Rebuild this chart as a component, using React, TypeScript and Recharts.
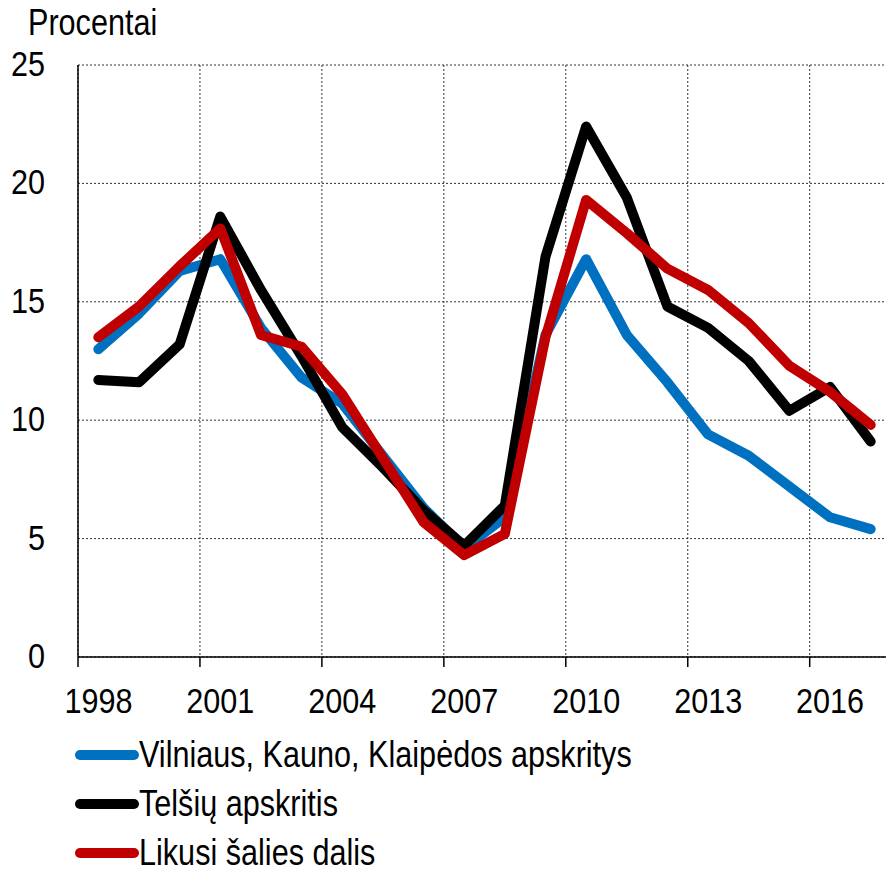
import { LineChart, Line, XAxis, YAxis, CartesianGrid, Legend } from 'recharts'

const years = [1998, 1999, 2000, 2001, 2002, 2003, 2004, 2005, 2006, 2007, 2008, 2009, 2010, 2011, 2012, 2013, 2014, 2015, 2016, 2017]
const vilniusKaunasKlaipeda = [13.0, 14.5, 16.3, 16.8, 13.9, 11.8, 10.7, 8.5, 6.3, 4.6, 5.9, 13.6, 16.8, 13.6, 11.6, 9.4, 8.5, 7.2, 5.9, 5.4]
const telsiai = [11.7, 11.6, 13.2, 18.6, 15.5, 12.7, 9.7, 8.0, 6.2, 4.7, 6.4, 16.9, 22.4, 19.4, 14.8, 13.9, 12.5, 10.4, 11.4, 9.1]
const likusi = [13.5, 14.8, 16.5, 18.1, 13.6, 13.1, 11.1, 8.4, 5.7, 4.3, 5.2, 13.5, 19.3, 17.9, 16.4, 15.5, 14.1, 12.3, 11.2, 9.8]
const yTicks = [0, 5, 10, 15, 20, 25]
// every third year boundary gets a grid line, label sits in the band to the right
const xTicks = [1997.5, 2000.5, 2003.5, 2006.5, 2009.5, 2012.5, 2015.5]

const seriesNames = ['Vilniaus, Kauno, Klaipėdos apskritys', 'Telšių apskritis', 'Likusi šalies dalis']
const seriesColors = ['#0070C0', '#000000', '#C00000']

const data = years.map((year, i) => ({
  year,
  a: vilniusKaunasKlaipeda[i],
  b: telsiai[i],
  c: likusi[i],
}))

// no Arial Narrow here, so squeeze Liberation Sans a bit
const FONT = "'Liberation Sans', Arial, sans-serif"
const SQUEEZE = 0.85

function YearTick({ x, payload }: any) {
  return (
    <text
      transform={`translate(${x + 20.4},${713}) scale(${SQUEEZE},1)`}
      textAnchor='middle'
      fontSize={36}
      fontFamily={FONT}
      fill='#000'
    >
      {payload.value + 0.5}
    </text>
  )
}

function ValueTick({ x, y, payload }: any) {
  return (
    <text
      transform={`translate(${x},${y + 11}) scale(${SQUEEZE},1)`}
      textAnchor='end'
      fontSize={36}
      fontFamily={FONT}
      fill='#000'
    >
      {payload.value}
    </text>
  )
}

function LegendBox() {
  return (
    <div style={{ fontFamily: FONT, fontSize: 36, lineHeight: '40px', color: '#000' }}>
      {seriesNames.map((name, i) => (
        <div key={name} style={{ height: 49, display: 'flex', alignItems: 'center', whiteSpace: 'nowrap' }}>
          <svg width={64} height={12}>
            <line x1={5} y1={6} x2={59} y2={6} stroke={seriesColors[i]} strokeWidth={10} strokeLinecap='round' />
          </svg>
          <span style={{ display: 'inline-block', transform: `scaleX(${SQUEEZE})`, transformOrigin: 'left center' }}>{name}</span>
        </div>
      ))}
    </div>
  )
}

export default function App() {
  return (
    <div style={{ position: 'absolute', left: 0, top: 0, width: 886, height: 876, background: '#fff', overflow: 'hidden' }}>
      <div
        style={{
          position: 'absolute',
          left: 28,
          top: 2,
          fontFamily: FONT,
          fontSize: 36,
          color: '#000',
          transform: `scaleX(${SQUEEZE})`,
          transformOrigin: 'left top',
        }}
      >
        Procentai
      </div>
      <LineChart width={886} height={876} data={data} margin={{ top: 65, right: -5, left: 8, bottom: 7 }}>
        <CartesianGrid stroke='#333' strokeDasharray='2 2' strokeWidth={1} />
        <XAxis
          dataKey='year'
          type='number'
          domain={[1997.5, 2017.5]}
          ticks={xTicks}
          height={65}
          tickSize={10}
          tick={<YearTick />}
          stroke='#000'
          strokeWidth={1.5}
          allowDataOverflow
        />
        <YAxis
          domain={[0, 25]}
          ticks={yTicks}
          width={70}
          tickLine={false}
          tickSize={0}
          tickMargin={33}
          stroke='#000'
          strokeWidth={1.5}
          tick={<ValueTick />}
        />
        <Legend
          verticalAlign='bottom'
          content={<LegendBox />}
          wrapperStyle={{ left: 75, top: 730, width: 760, height: 147 }}
        />
        {['a', 'b', 'c'].map((key, i) => (
          <Line
            key={key}
            dataKey={key}
            name={seriesNames[i]}
            stroke={seriesColors[i]}
            strokeWidth={10}
            strokeLinecap='round'
            strokeLinejoin='round'
            dot={false}
            activeDot={false}
            isAnimationActive={false}
          />
        ))}
      </LineChart>
    </div>
  )
}
